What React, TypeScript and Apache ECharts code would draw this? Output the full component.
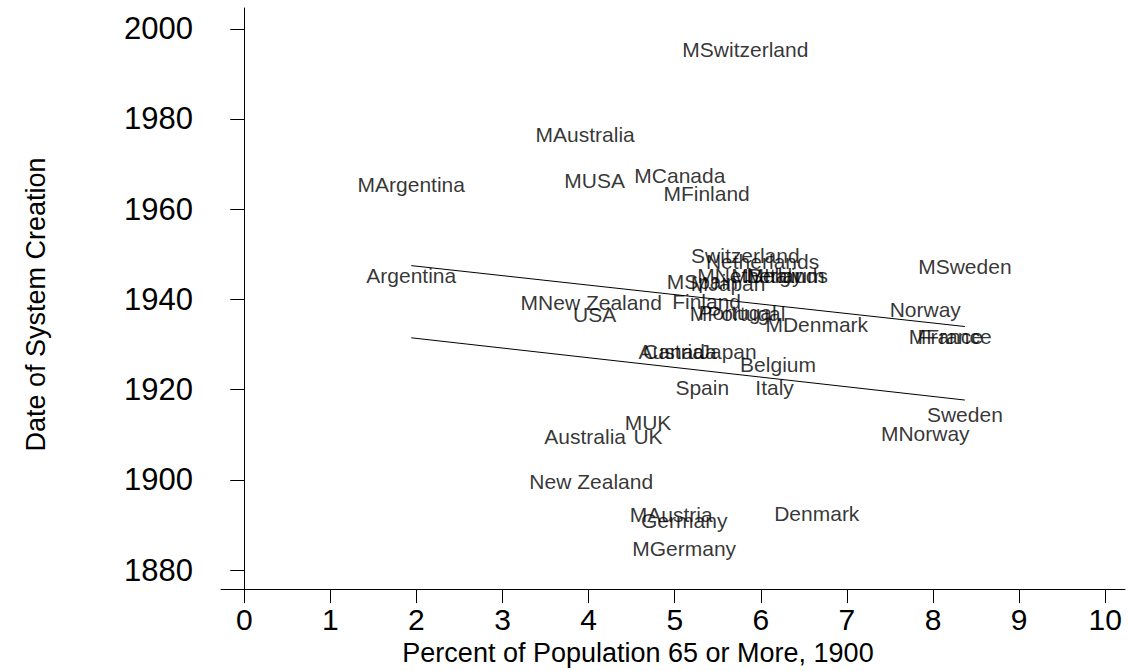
import React, { useEffect, useRef } from "react";
import * as echarts from "echarts";

const countries = [
  "Argentina", "Australia", "Austria", "Belgium", "Canada", "Denmark", "Finland",
  "France", "Germany", "Italy", "Japan", "Netherlands", "New Zealand", "Norway",
  "Portugal", "Spain", "Sweden", "Switzerland", "UK", "USA",
];
const pct65 = [
  1.94, 3.96, 4.96, 6.2, 5.06, 6.65, 5.37, 8.2, 5.11, 6.16, 5.62, 6.02, 4.03, 7.91,
  5.73, 5.32, 8.37, 5.82, 4.69, 4.07,
];
const yearPlain = [
  1945.3, 1909.7, 1928.5, 1925.6, 1928.5, 1892.6, 1939.5, 1931.8, 1890.9, 1920.5,
  1928.5, 1948.4, 1899.7, 1937.8, 1937.1, 1920.5, 1914.5, 1949.7, 1909.7, 1936.7,
];
const yearMandatory = [
  1965.4, 1976.5, 1892.4, 1945.3, 1967.4, 1934.4, 1963.4, 1931.8, 1884.7, 1945.3,
  1943.5, 1945.3, 1939.4, 1910.3, 1936.9, 1944.0, 1947.3, 1995.3, 1912.8, 1966.3,
];
const fitX = [1.94, 8.37];
const fitUpper = [1947.5, 1934.0];
const fitLower = [1931.5, 1917.7];
const xTicks = [0, 1, 2, 3, 4, 5, 6, 7, 8, 9, 10];
const yTicks = [1880, 1900, 1920, 1940, 1960, 1980, 2000];

const FONT = "'Liberation Sans', Arial, Helvetica, sans-serif";

export default function App() {
  const ref = useRef<HTMLDivElement>(null);
  useEffect(() => {
    if (!ref.current) return;
    const chart = echarts.init(ref.current, null, { renderer: "svg" });
    const labelSeries = (years: number[], prefix: string) => ({
      type: "scatter",
      symbolSize: 1,
      itemStyle: { color: "rgba(0,0,0,0)" },
      data: countries.map((c, i) => [pct65[i], years[i], prefix + c]),
      label: {
        show: true,
        position: "inside",
        formatter: (p: any) => p.data[2],
        color: "#000",
        fontSize: 21,
        fontFamily: FONT,
      },
      emphasis: { disabled: true },
      z: 3,
    });
    const fitSeries = (ys: number[]) => ({
      type: "line",
      symbol: "none",
      data: fitX.map((x, i) => [x, ys[i]]),
      lineStyle: { color: "#000", width: 1 },
      emphasis: { disabled: true },
      z: 2,
    });
    chart.setOption({
      animation: false,
      backgroundColor: "#fff",
      textStyle: { fontFamily: FONT },
      grid: { left: 221, right: 4, top: 8, bottom: 81 },
      xAxis: {
        type: "value",
        min: -0.27,
        max: 10.23,
        name: "Percent of Population 65 or More, 1900",
        nameLocation: "middle",
        nameGap: 44,
        nameTextStyle: { fontSize: 27, color: "#000", fontFamily: FONT, padding: [0, 70, 0, 0] },
        axisLine: { show: true, lineStyle: { color: "#000", width: 1 } },
        axisTick: { show: true, length: 14, customValues: xTicks, lineStyle: { color: "#000" } },
        axisLabel: {
          customValues: xTicks, fontSize: 30, color: "#000", margin: 15, fontFamily: FONT,
          formatter: (v: number) => String(v),
        },
        splitLine: { show: false },
      },
      yAxis: {
        type: "value",
        min: 1875.8,
        max: 2004.6,
        name: "Date of System Creation",
        nameLocation: "middle",
        nameGap: 172,
        nameTextStyle: { fontSize: 27, color: "#000", fontFamily: FONT, padding: [0, 12, 0, 0] },
        axisLine: { show: true, lineStyle: { color: "#000", width: 1 } },
        axisTick: { show: true, length: 14, customValues: yTicks, lineStyle: { color: "#000" } },
        axisLabel: {
          customValues: yTicks, fontSize: 31, color: "#000", margin: 28, fontFamily: FONT,
          formatter: (v: number) => String(v),
        },
        splitLine: { show: false },
      },
      series: [
        fitSeries(fitUpper),
        fitSeries(fitLower),
        labelSeries(yearPlain, ""),
        labelSeries(yearMandatory, "M"),
      ],
    });
    return () => chart.dispose();
  }, []);
  return <div ref={ref} style={{ width: 1129, height: 671, position: "absolute", left: 0, top: 0 }} />;
}
